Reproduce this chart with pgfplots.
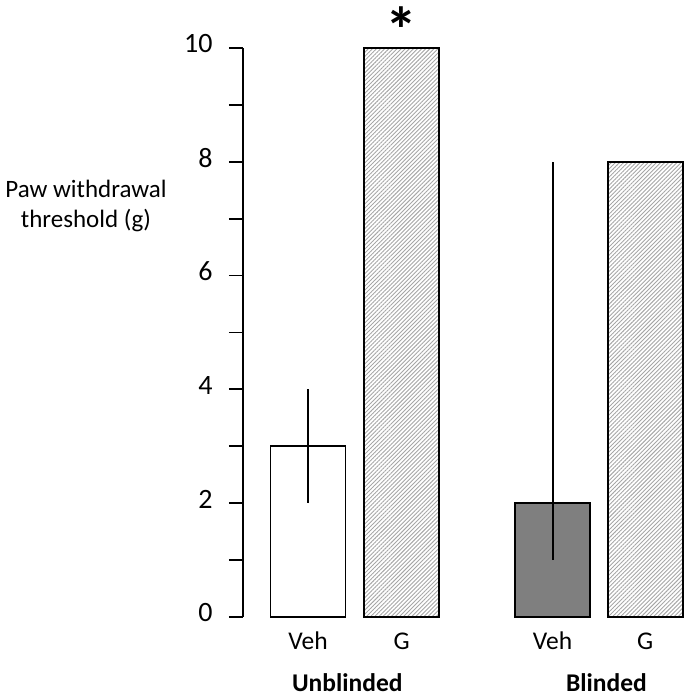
\documentclass[border=0pt]{standalone}
\usepackage{fontspec}
\setmainfont{Carlito}
\usepackage{pgfplots}
\pgfplotsset{compat=1.18}
\usetikzlibrary{patterns.meta}
\definecolor{barGray}{RGB}{127,127,127}
\begin{document}
\begin{tikzpicture}
\begin{axis}[
  scale only axis,
  width=442pt, height=569pt,
  xmin=-0.695, xmax=4.03,
  ymin=0, ymax=10,
  clip=false,
  axis y line*=left,
  axis x line*=bottom,
  x axis line style={draw=none},
  y axis line style={line width=1.8pt},
  ytick={0,2,4,6,8,10},
  minor ytick={1,3,5,7,9},
  tick align=outside,
  major tick length=14pt,
  minor tick length=14pt,
  every tick/.style={black, line width=1.8pt},
  xtick={0,1,2.615,3.604},
  xticklabels={Veh,G,Veh,G},
  major x tick style={draw=none},
  /pgf/number format/assume math mode=true,
  yticklabel style={font=\fontsize{28}{28}\selectfont, yshift=4pt, xshift=-13pt},
  xticklabel style={font=\fontsize{25.5}{25.5}\selectfont, anchor=base, yshift=-18pt},
  every axis y label/.style={at={(rel axis cs:0,0.722)}, anchor=center, xshift=-157pt, align=center, font=\fontsize{25}{29.5}\selectfont},
  ylabel={Paw withdrawal\\threshold (g)},
]
\addplot[ybar, bar width=75pt, fill=white, draw=black, line width=1.8pt,
  error bars/.cd, y dir=both, y explicit, error mark=none,
  error bar style={line width=1.8pt, black}]
  coordinates {(0,3) +- (0,1)};
\addplot[ybar, bar width=75pt, draw=black, line width=1.8pt,
  pattern={Lines[angle=45,distance=2.9pt,line width=0.9pt]}, pattern color=gray!70]
  coordinates {(1,10)};
\addplot[ybar, bar width=75pt, fill=barGray, draw=black, line width=1.8pt,
  error bars/.cd, y dir=both, y explicit, error mark=none,
  error bar style={line width=1.8pt, black}]
  coordinates {(2.615,2) += (0,6) -= (0,1)};
\addplot[ybar, bar width=75pt, draw=black, line width=1.8pt,
  pattern={Lines[angle=45,distance=2.9pt,line width=0.9pt]}, pattern color=gray!70]
  coordinates {(3.604,8)};
\node[anchor=base, font=\fontsize{25.5}{25.5}\selectfont\bfseries] at ([yshift=-74pt]axis cs:0.42,0) {Unblinded};
\node[anchor=base, font=\fontsize{25.5}{25.5}\selectfont\bfseries] at ([yshift=-74pt]axis cs:3.19,0) {Blinded};
\node[font=\fontsize{64}{64}\selectfont\bfseries] at (axis cs:1,10.33) {*};
\coordinate (sw) at (rel axis cs:0,0);
\end{axis}
\pgfresetboundingbox
\path ([shift={(-243pt,-79pt)}]sw) rectangle ([shift={(442pt,617pt)}]sw);
\end{tikzpicture}
\end{document}
